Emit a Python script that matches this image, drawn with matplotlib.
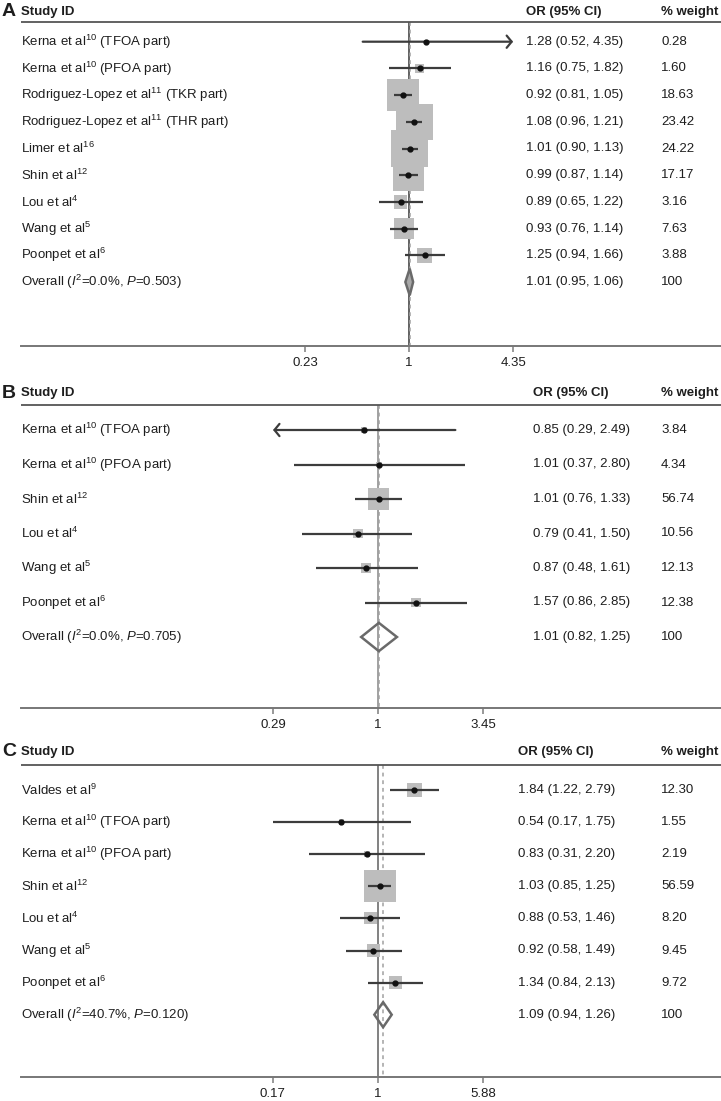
import numpy as np
import matplotlib
matplotlib.use("Agg")
import matplotlib.pyplot as plt
import matplotlib.transforms as mtransforms

plt.rcParams['font.family'] = ['Liberation Sans', 'DejaVu Sans']
plt.rcParams['mathtext.fontset'] = 'custom'
plt.rcParams['mathtext.rm'] = 'Liberation Sans'
plt.rcParams['mathtext.it'] = 'Liberation Sans:italic'
plt.rcParams['mathtext.bf'] = 'Liberation Sans:bold'

# ---------------- data ----------------
A_studies = ["Kerna et al$^{10}$ (TFOA part)", "Kerna et al$^{10}$ (PFOA part)",
             "Rodriguez-Lopez et al$^{11}$ (TKR part)", "Rodriguez-Lopez et al$^{11}$ (THR part)",
             "Limer et al$^{16}$", "Shin et al$^{12}$", "Lou et al$^{4}$", "Wang et al$^{5}$",
             "Poonpet et al$^{6}$"]
A_or = [1.28, 1.16, 0.92, 1.08, 1.01, 0.99, 0.89, 0.93, 1.25]
A_lo = [0.52, 0.75, 0.81, 0.96, 0.90, 0.87, 0.65, 0.76, 0.94]
A_hi = [4.35, 1.82, 1.05, 1.21, 1.13, 1.14, 1.22, 1.14, 1.66]
A_w = [0.28, 1.60, 18.63, 23.42, 24.22, 17.17, 3.16, 7.63, 3.88]
A_overall = [1.01, 0.95, 1.06]
A_het = "Overall ($\\mathit{I}^2$=0.0%, $\\mathit{P}$=0.503)"
A_ticks = [0.23, 1, 4.35]

B_studies = ["Kerna et al$^{10}$ (TFOA part)", "Kerna et al$^{10}$ (PFOA part)",
             "Shin et al$^{12}$", "Lou et al$^{4}$", "Wang et al$^{5}$", "Poonpet et al$^{6}$"]
B_or = [0.85, 1.01, 1.01, 0.79, 0.87, 1.57]
B_lo = [0.29, 0.37, 0.76, 0.41, 0.48, 0.86]
B_hi = [2.49, 2.80, 1.33, 1.50, 1.61, 2.85]
B_w = [3.84, 4.34, 56.74, 10.56, 12.13, 12.38]
B_overall = [1.01, 0.82, 1.25]
B_het = "Overall ($\\mathit{I}^2$=0.0%, $\\mathit{P}$=0.705)"
B_ticks = [0.29, 1, 3.45]

C_studies = ["Valdes et al$^{9}$", "Kerna et al$^{10}$ (TFOA part)", "Kerna et al$^{10}$ (PFOA part)",
             "Shin et al$^{12}$", "Lou et al$^{4}$", "Wang et al$^{5}$", "Poonpet et al$^{6}$"]
C_or = [1.84, 0.54, 0.83, 1.03, 0.88, 0.92, 1.34]
C_lo = [1.22, 0.17, 0.31, 0.85, 0.53, 0.58, 0.84]
C_hi = [2.79, 1.75, 2.20, 1.25, 1.46, 1.49, 2.13]
C_w = [12.30, 1.55, 2.19, 56.59, 8.20, 9.45, 9.72]
C_overall = [1.09, 0.94, 1.26]
C_het = "Overall ($\\mathit{I}^2$=40.7%, $\\mathit{P}$=0.120)"
C_ticks = [0.17, 1, 5.88]

# ---------------- layout (pixels) ----------------
W, H = 721, 1101
fig = plt.figure(figsize=(W / 100, H / 100), dpi=100)

panels = [
    dict(letter="A", studies=A_studies, est=A_or, lo=A_lo, hi=A_hi, w=A_w, ov=A_overall,
         het=A_het, ticks=A_ticks, arrows={0: "right"},
         top=0, bot=380, row0=41.7, step=26.7, hdr=12, hdr_line=22, axis=346,
         null=409, ppl=70.8, val_x=526, wt_x=661, sq=29.0, dh=0.50, dfill="#a8a8a8",
         null_style="-", null_col="#555555"),
    dict(letter="B", studies=B_studies, est=B_or, lo=B_lo, hi=B_hi, w=B_w, ov=B_overall,
         het=B_het, ticks=B_ticks, arrows={0: "left"},
         top=380, bot=742, row0=430, step=34.5, hdr=393, hdr_line=405, axis=708,
         null=378, ppl=84.8, val_x=533, wt_x=661, sq=4.1, dh=0.41, dfill="none",
         null_style="-", null_col="#9a9a9a"),
    dict(letter="C", studies=C_studies, est=C_or, lo=C_lo, hi=C_hi, w=C_w, ov=C_overall,
         het=C_het, ticks=C_ticks, arrows={},
         top=742, bot=1101, row0=790, step=32.1, hdr=752, hdr_line=765, axis=1077,
         null=378, ppl=59.3, val_x=518, wt_x=661, sq=9.4, dh=0.39, dfill="none",
         null_style="-", null_col="#777777"),
]

txt_col = "#1e1e1e"
ci_col = "#3c3c3c"
fs = 9.5
arrow_style = "->, head_length=0.18, head_width=0.22"

for p in panels:
    ax = fig.add_axes([0, 1 - p["bot"] / H, 1, (p["bot"] - p["top"]) / H])
    ax.set_xscale("log")
    ax.set_xlim(np.exp((0 - p["null"]) / p["ppl"]), np.exp((W - p["null"]) / p["ppl"]))
    to_row = lambda px: (px - p["row0"]) / p["step"]
    ax.set_ylim(to_row(p["bot"]), to_row(p["top"]))
    tr = mtransforms.blended_transform_factory(ax.transAxes, ax.transData)

    n = len(p["studies"])
    rows = np.arange(n)
    ov_row = n

    y_hdr = to_row(p["hdr"])
    y_line = to_row(p["hdr_line"])
    y_axis = to_row(p["axis"])

    # header
    ax.text(2 / W, y_hdr, p["letter"], transform=tr, fontsize=14, fontweight="bold",
            va="center", ha="left", color=txt_col)
    ax.text(21 / W, y_hdr, "Study ID", transform=tr, fontsize=fs, fontweight="bold",
            va="center", ha="left", color=txt_col)
    ax.text(p["val_x"] / W, y_hdr, "OR (95% CI)", transform=tr, fontsize=fs,
            fontweight="bold", va="center", ha="left", color=txt_col)
    ax.text(p["wt_x"] / W, y_hdr, "% weight", transform=tr, fontsize=fs,
            fontweight="bold", va="center", ha="left", color=txt_col)
    ax.plot([21 / W, 1], [y_line, y_line], transform=tr, color="#555555", lw=1.3,
            solid_capstyle="butt")

    # null line and overall line
    ax.vlines(1, y_line, y_axis, color=p["null_col"], lw=1.3, linestyles=p["null_style"], zorder=1)
    ax.vlines(p["ov"][0], y_line, y_axis, color="#a0a0a0", lw=1.1, linestyles=(0, (2.5, 2.5)),
              zorder=1)

    # studies
    xmin_t, xmax_t = min(p["ticks"]), max(p["ticks"])
    ax.scatter(p["est"], rows, s=np.array(p["w"]) * p["sq"], marker="s", color="#bdbdbd",
               edgecolors="none", zorder=2)
    for i in range(n):
        lo = max(p["lo"][i], xmin_t)
        hi = min(p["hi"][i], xmax_t)
        side = p["arrows"].get(i)
        if side == "right":
            ax.annotate("", xy=(hi, i), xytext=(lo, i),
                        arrowprops=dict(arrowstyle=arrow_style, color=ci_col, lw=1.6,
                                        mutation_scale=20, shrinkA=0, shrinkB=0), zorder=3)
        elif side == "left":
            ax.annotate("", xy=(lo, i), xytext=(hi, i),
                        arrowprops=dict(arrowstyle=arrow_style, color=ci_col, lw=1.6,
                                        mutation_scale=20, shrinkA=0, shrinkB=0), zorder=3)
        else:
            ax.plot([lo, hi], [i, i], color=ci_col, lw=1.6, solid_capstyle="butt", zorder=3)
    ax.plot(p["est"], rows, "o", ms=3.5, color="#111111", zorder=4)

    # overall diamond
    o, olo, ohi = p["ov"]
    dx = [olo, o, ohi, o, olo]
    dy = [ov_row, ov_row - p["dh"], ov_row, ov_row + p["dh"], ov_row]
    ax.fill(dx, dy, facecolor=p["dfill"], edgecolor="#6a6a6a", lw=1.8, zorder=4)

    # text columns
    labels = p["studies"] + [p["het"]]
    ests = p["est"] + [o]
    los = p["lo"] + [olo]
    his = p["hi"] + [ohi]
    wts = ["%.2f" % v for v in p["w"]] + ["100"]
    for i in range(n + 1):
        ax.text(21 / W, i, labels[i], transform=tr, fontsize=fs, va="center", ha="left",
                color=txt_col)
        ax.text(p["val_x"] / W, i, "%.2f (%.2f, %.2f)" % (ests[i], los[i], his[i]),
                transform=tr, fontsize=fs, va="center", ha="left", color=txt_col)
        ax.text(p["wt_x"] / W, i, wts[i], transform=tr, fontsize=fs, va="center",
                ha="left", color=txt_col)

    # x axis
    for s in ["top", "left", "right"]:
        ax.spines[s].set_visible(False)
    ax.spines["bottom"].set_position(("data", y_axis))
    x0, x1 = ax.get_xlim()
    ax.spines["bottom"].set_bounds(x0 * (x1 / x0) ** (21 / W), x1)
    ax.spines["bottom"].set_color("#777777")
    ax.spines["bottom"].set_linewidth(1.4)
    ax.set_xticks(p["ticks"])
    ax.set_xticklabels([("%g" % t) for t in p["ticks"]])
    ax.xaxis.set_minor_locator(matplotlib.ticker.NullLocator())
    ax.tick_params(axis="x", direction="out", length=4, width=1.2, color="#888888",
                   labelsize=fs, labelcolor=txt_col, pad=4)
    ax.set_yticks([])
    ax.patch.set_alpha(0)

fig.savefig("out.png", dpi=100)
